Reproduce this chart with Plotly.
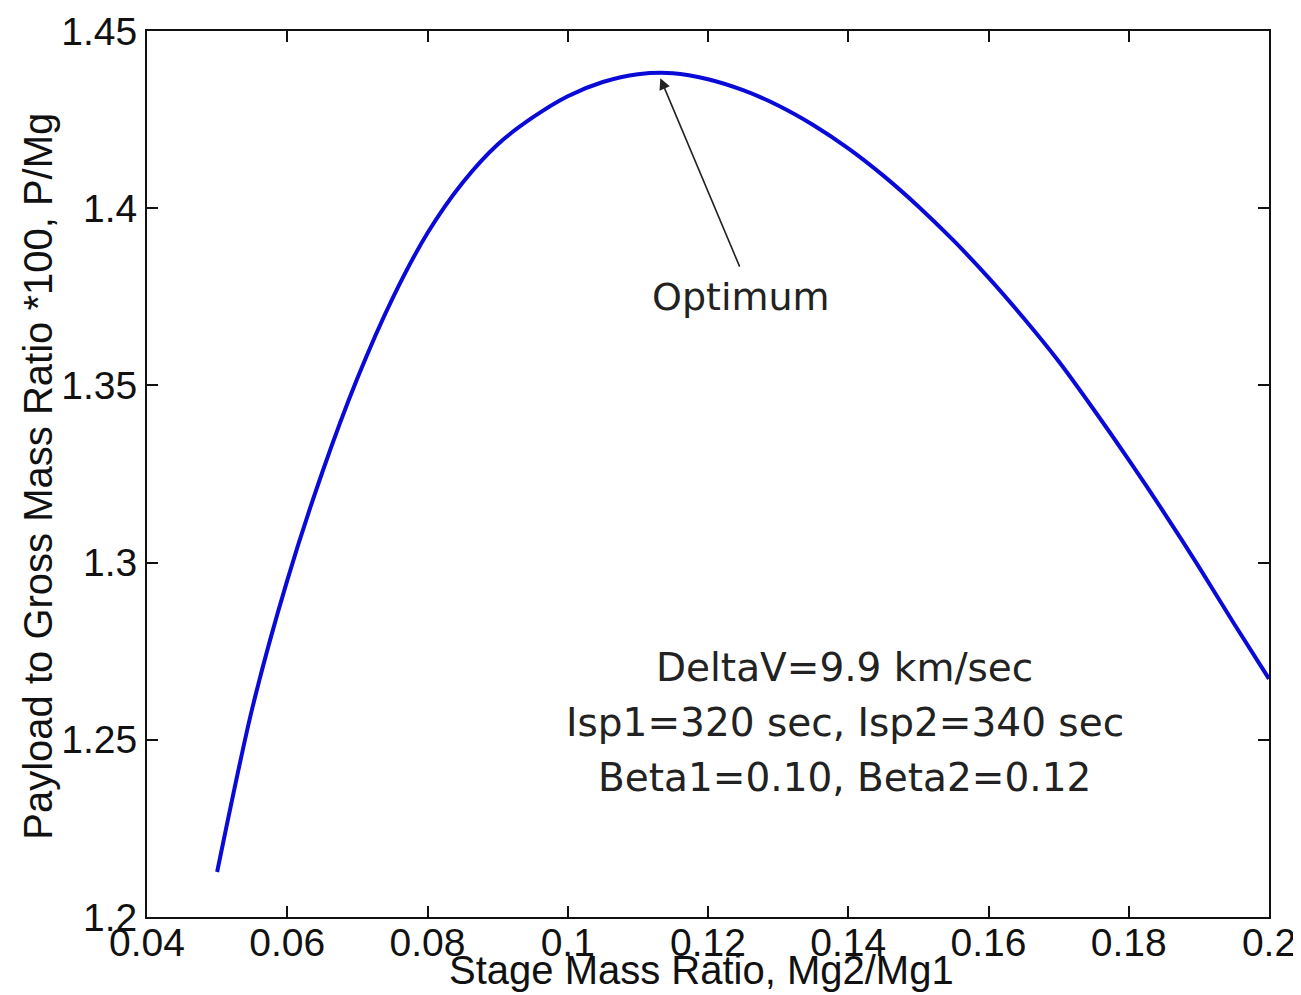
import plotly.graph_objects as go

# Stage mass ratio Mg2/Mg1 (x) and payload to gross mass ratio *100 (y)
stage_ratio = [0.050, 0.055, 0.060, 0.065, 0.070, 0.075, 0.080, 0.085, 0.090, 0.095,
               0.100, 0.105, 0.110, 0.115, 0.120, 0.125, 0.130, 0.135, 0.140, 0.145,
               0.150, 0.155, 0.160, 0.165, 0.170, 0.175, 0.180, 0.185, 0.190, 0.195, 0.200]
payload_ratio = [1.2127, 1.2588, 1.2950, 1.3255, 1.3520, 1.3745, 1.3930, 1.4072, 1.4180, 1.4256,
                 1.4316, 1.4356, 1.4378, 1.4381, 1.4364, 1.4333, 1.4290, 1.4235, 1.4169, 1.4092,
                 1.4005, 1.3909, 1.3804, 1.3690, 1.3568, 1.3432, 1.3290, 1.3142, 1.2988, 1.2828,
                 1.2672]

x_ticks = [0.04, 0.06, 0.08, 0.1, 0.12, 0.14, 0.16, 0.18, 0.2]
x_tick_labels = ["0.04", "0.06", "0.08", "0.1", "0.12", "0.14", "0.16", "0.18", "0.2"]
y_ticks = [1.2, 1.25, 1.3, 1.35, 1.4, 1.45]
y_tick_labels = ["1.2", "1.25", "1.3", "1.35", "1.4", "1.45"]

x_title = "Stage Mass Ratio, Mg2/Mg1"
y_title = "Payload to Gross Mass Ratio *100, P/Mg"
optimum_label = "Optimum"
optimum_tip = (0.1132, 1.4367)
optimum_tail = (0.1246, 1.3831)
optimum_label_pos = (0.1247, 1.3749)
info_lines = ["DeltaV=9.9 km/sec", "Isp1=320 sec, Isp2=340 sec", "Beta1=0.10, Beta2=0.12"]
info_x = 0.1395
info_y = [1.2705, 1.2550, 1.2395]

tick_font = dict(family="Liberation Sans, Arial, sans-serif", size=39, color="#111111")
title_font = dict(family="Liberation Sans, Arial, sans-serif", size=40, color="#111111")
note_font = dict(family="DejaVu Sans, sans-serif", size=39, color="#222222")
opt_font = dict(family="DejaVu Sans, sans-serif", size=38, color="#222222")

fig = go.Figure()
fig.add_trace(go.Scatter(x=stage_ratio, y=payload_ratio, mode="lines",
                         line=dict(color="#0a0ad8", width=4, shape="spline", smoothing=0.8),
                         showlegend=False))

fig.add_annotation(x=optimum_tip[0], y=optimum_tip[1], ax=optimum_tail[0], ay=optimum_tail[1],
                   xref="x", yref="y", axref="x", ayref="y", text="", showarrow=True,
                   arrowhead=2, arrowsize=1.4, arrowwidth=1.6, arrowcolor="#222222")
fig.add_annotation(x=optimum_label_pos[0], y=optimum_label_pos[1], xref="x", yref="y",
                   text=optimum_label, showarrow=False, font=opt_font)
for line_text, ly in zip(info_lines, info_y):
    fig.add_annotation(x=info_x, y=ly, xref="x", yref="y", text=line_text,
                       showarrow=False, font=note_font)

# axis titles placed as annotations so they sit as tight to the tick labels as in the original
fig.add_annotation(x=0.4946, y=-0.0598, xref="paper", yref="paper", text=x_title,
                   showarrow=False, font=title_font, xanchor="center", yanchor="middle")
fig.add_annotation(x=-0.0971, y=0.497, xref="paper", yref="paper", text=y_title,
                   showarrow=False, font=title_font, textangle=-90,
                   xanchor="center", yanchor="middle")

axis_common = dict(showgrid=False, zeroline=False, showline=True, linecolor="#111111",
                   linewidth=2, mirror="allticks", ticks="inside", ticklen=11,
                   tickwidth=1.5, tickcolor="#111111", tickfont=tick_font, automargin=False)

fig.update_xaxes(range=[0.04, 0.2], tickvals=x_ticks, ticktext=x_tick_labels,
                 ticklabelstandoff=-10, **axis_common)
fig.update_yaxes(range=[1.2, 1.45], tickvals=y_ticks, ticktext=y_tick_labels, **axis_common)

fig.update_layout(width=1293, height=987, paper_bgcolor="white", plot_bgcolor="white",
                  margin=dict(l=139, r=32, t=23, b=78))

fig.write_html("out.html")
